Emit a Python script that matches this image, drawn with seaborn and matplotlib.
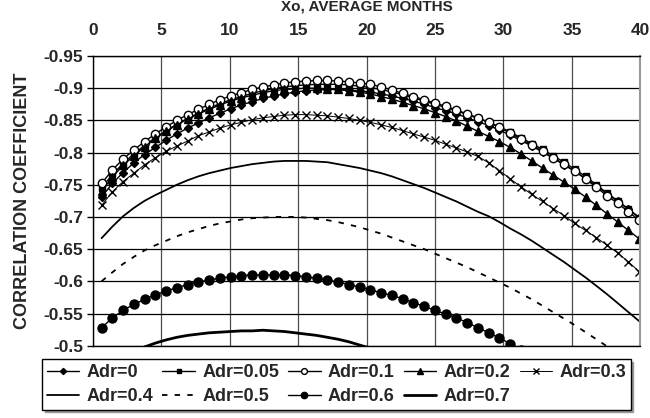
import matplotlib
matplotlib.use("Agg")
import matplotlib.pyplot as plt
from matplotlib.ticker import MultipleLocator, FuncFormatter
import pandas as pd
import seaborn as sns

# Xo values (average months) shared by every series
x_months = [0.63, 1.42, 2.20, 2.99, 3.77, 4.56, 5.35, 6.13, 6.92, 7.70,
            8.49, 9.28, 10.06, 10.85, 11.63, 12.42, 13.21, 13.99, 14.78, 15.56,
            16.35, 17.14, 17.92, 18.71, 19.49, 20.28, 21.07, 21.85, 22.64, 23.42,
            24.21, 25.00, 25.78, 26.57, 27.35, 28.14, 28.93, 29.71, 30.50, 31.28,
            32.07, 32.86, 33.64, 34.43, 35.21, 36.00, 36.79, 37.57, 38.36, 39.14,
            39.93]

adr_0 = [-0.731, -0.752, -0.769, -0.784, -0.797, -0.808, -0.819, -0.829, -0.838, -0.846,
         -0.854, -0.861, -0.868, -0.874, -0.879, -0.884, -0.888, -0.891, -0.894, -0.896,
         -0.897, -0.898, -0.898, -0.897, -0.896, -0.894, -0.891, -0.888, -0.884, -0.880,
         -0.875, -0.870, -0.865, -0.860, -0.854, -0.848, -0.842, -0.835, -0.827, -0.819,
         -0.810, -0.801, -0.791, -0.781, -0.771, -0.760, -0.748, -0.736, -0.724, -0.712,
         -0.699]
adr_005 = [-0.745, -0.766, -0.783, -0.798, -0.811, -0.823, -0.834, -0.844, -0.853, -0.861,
           -0.869, -0.876, -0.882, -0.887, -0.892, -0.896, -0.899, -0.902, -0.904, -0.905,
           -0.906, -0.906, -0.906, -0.905, -0.903, -0.901, -0.898, -0.894, -0.890, -0.885,
           -0.880, -0.875, -0.870, -0.865, -0.859, -0.853, -0.847, -0.840, -0.832, -0.823,
           -0.814, -0.805, -0.795, -0.785, -0.774, -0.763, -0.750, -0.737, -0.725, -0.712,
           -0.699]
adr_01 = [-0.752, -0.773, -0.790, -0.804, -0.817, -0.829, -0.840, -0.850, -0.859, -0.867,
          -0.875, -0.882, -0.888, -0.893, -0.898, -0.902, -0.905, -0.908, -0.910, -0.911,
          -0.912, -0.912, -0.911, -0.910, -0.908, -0.906, -0.902, -0.897, -0.892, -0.887,
          -0.882, -0.877, -0.872, -0.866, -0.860, -0.854, -0.847, -0.839, -0.830, -0.821,
          -0.812, -0.802, -0.792, -0.782, -0.771, -0.759, -0.746, -0.733, -0.721, -0.708,
          -0.695]
adr_02 = [-0.740, -0.762, -0.780, -0.795, -0.809, -0.822, -0.833, -0.843, -0.852, -0.860,
          -0.867, -0.874, -0.880, -0.885, -0.889, -0.893, -0.896, -0.898, -0.899, -0.900,
          -0.900, -0.899, -0.898, -0.896, -0.894, -0.891, -0.887, -0.883, -0.878, -0.873,
          -0.868, -0.862, -0.856, -0.849, -0.841, -0.833, -0.825, -0.817, -0.808, -0.798,
          -0.787, -0.776, -0.765, -0.754, -0.743, -0.731, -0.718, -0.705, -0.692, -0.679,
          -0.666]
adr_03 = [-0.718, -0.739, -0.755, -0.768, -0.781, -0.792, -0.802, -0.810, -0.818, -0.826,
          -0.832, -0.838, -0.843, -0.847, -0.851, -0.854, -0.856, -0.858, -0.859, -0.859,
          -0.858, -0.857, -0.855, -0.853, -0.850, -0.847, -0.843, -0.839, -0.834, -0.829,
          -0.824, -0.819, -0.813, -0.807, -0.801, -0.794, -0.784, -0.772, -0.759, -0.747,
          -0.735, -0.724, -0.713, -0.702, -0.690, -0.679, -0.668, -0.656, -0.644, -0.630,
          -0.615]
adr_04 = [-0.667, -0.685, -0.701, -0.714, -0.725, -0.734, -0.742, -0.750, -0.757, -0.763,
          -0.768, -0.772, -0.776, -0.779, -0.782, -0.784, -0.786, -0.787, -0.787, -0.787,
          -0.786, -0.785, -0.782, -0.779, -0.776, -0.772, -0.768, -0.763, -0.757, -0.751,
          -0.745, -0.738, -0.731, -0.724, -0.716, -0.708, -0.701, -0.692, -0.682, -0.673,
          -0.663, -0.652, -0.641, -0.630, -0.618, -0.606, -0.593, -0.580, -0.566, -0.552,
          -0.538]
adr_05 = [-0.600, -0.614, -0.627, -0.638, -0.648, -0.656, -0.663, -0.670, -0.676, -0.681,
          -0.686, -0.690, -0.693, -0.696, -0.698, -0.699, -0.700, -0.700, -0.700, -0.699,
          -0.697, -0.695, -0.692, -0.688, -0.684, -0.679, -0.674, -0.668, -0.662, -0.656,
          -0.650, -0.643, -0.636, -0.629, -0.622, -0.614, -0.606, -0.598, -0.590, -0.581,
          -0.572, -0.562, -0.552, -0.542, -0.532, -0.521, -0.510, -0.499, -0.488, -0.477,
          -0.466]
adr_06 = [-0.528, -0.543, -0.555, -0.564, -0.572, -0.579, -0.585, -0.590, -0.595, -0.599,
          -0.602, -0.605, -0.607, -0.609, -0.610, -0.610, -0.610, -0.610, -0.609, -0.607,
          -0.605, -0.602, -0.599, -0.595, -0.591, -0.587, -0.582, -0.578, -0.573, -0.567,
          -0.561, -0.555, -0.549, -0.543, -0.536, -0.528, -0.520, -0.512, -0.503, -0.494,
          -0.485]
adr_07 = [-0.462, -0.473, -0.482, -0.490, -0.498, -0.504, -0.509, -0.513, -0.516, -0.518,
          -0.520, -0.521, -0.522, -0.523, -0.523, -0.524, -0.523, -0.522, -0.520, -0.518,
          -0.516, -0.513, -0.510, -0.506, -0.501, -0.496, -0.491, -0.485, -0.479]

labels = ["Adr=0", "Adr=0.05", "Adr=0.1", "Adr=0.2", "Adr=0.3",
          "Adr=0.4", "Adr=0.5", "Adr=0.6", "Adr=0.7"]
series = [adr_0, adr_005, adr_01, adr_02, adr_03, adr_04, adr_05, adr_06, adr_07]

styles = [
    dict(marker="D", markersize=4.5, markerfacecolor="black", linewidth=1.0),
    dict(marker="s", markersize=5, markerfacecolor="black", linewidth=1.0),
    dict(marker="o", markersize=6, markerfacecolor="white", linewidth=1.0),
    dict(marker="^", markersize=6, markerfacecolor="black", linewidth=1.0),
    dict(marker="x", markersize=6, markerfacecolor="black", linewidth=0.7),
    dict(linewidth=1.3),
    dict(linewidth=1.3, linestyle=(0, (3, 4))),
    dict(marker="o", markersize=6.5, markerfacecolor="black", linewidth=1.0),
    dict(linewidth=2.0),
]

sns.set_style("white")
plt.rcParams['font.family'] = ['Liberation Sans', 'DejaVu Sans']
plt.rcParams['font.weight'] = 'bold'
plt.rcParams['axes.unicode_minus'] = False

fig = plt.figure(figsize=(6.5, 4.18), dpi=100)
ax = fig.add_axes([0.143, 0.173, 0.842, 0.693])

for name, vals, st in zip(labels, series, styles):
    df = pd.DataFrame({"x": x_months[:len(vals)], "r": vals})
    sns.lineplot(data=df, x="x", y="r", ax=ax, label=name, sort=False,
                 color="black", markeredgecolor="black", markeredgewidth=1.0, **st)

ax.set_xlim(0, 40)
ax.set_ylim(-0.5, -0.95)
ax.xaxis.set_major_locator(MultipleLocator(5))
ax.yaxis.set_major_locator(MultipleLocator(0.05))
ax.yaxis.set_major_formatter(FuncFormatter(lambda v, p: f"{round(v, 2):g}"))

ax.xaxis.set_ticks_position("top")
ax.xaxis.set_label_position("top")
ax.tick_params(axis="x", top=True, bottom=False, labeltop=True, labelbottom=False,
               length=0, pad=13, labelsize=12.5)
ax.tick_params(axis="y", left=True, length=4, width=1, color="black", pad=3, labelsize=12.5)

ax.set_xlabel("Xo, AVERAGE MONTHS", fontsize=11, fontweight="bold", labelpad=9)
ax.set_ylabel("CORRELATION COEFFICIENT", fontsize=13, fontweight="bold", labelpad=9)

ax.grid(True, axis="y", color="black", linewidth=0.9)
ax.grid(True, axis="x", color="0.3", linewidth=0.9)
for side in ["left", "top", "bottom"]:
    ax.spines[side].set_color("black")
    ax.spines[side].set_linewidth(1.0)
ax.spines["right"].set_color("0.6")
ax.spines["right"].set_linewidth(1.5)

handles, names = ax.get_legend_handles_labels()
ax.get_legend().remove()
order = [0, 5, 1, 6, 2, 7, 3, 8, 4]
leg = fig.legend([handles[i] for i in order], [names[i] for i in order],
                 ncol=5, loc="lower left", bbox_to_anchor=(0.065, 0.02, 0.905, 0.14),
                 mode="expand", frameon=True, fancybox=False, edgecolor="black",
                 fontsize=13, handlelength=1.8, handletextpad=0.4, borderpad=0.25,
                 labelspacing=0.4, borderaxespad=0, columnspacing=0.4, markerscale=0.7,
                 shadow={"color": "0.6", "alpha": 1.0})
leg.get_frame().set_linewidth(1.0)

fig.savefig("out.png", dpi=100)
